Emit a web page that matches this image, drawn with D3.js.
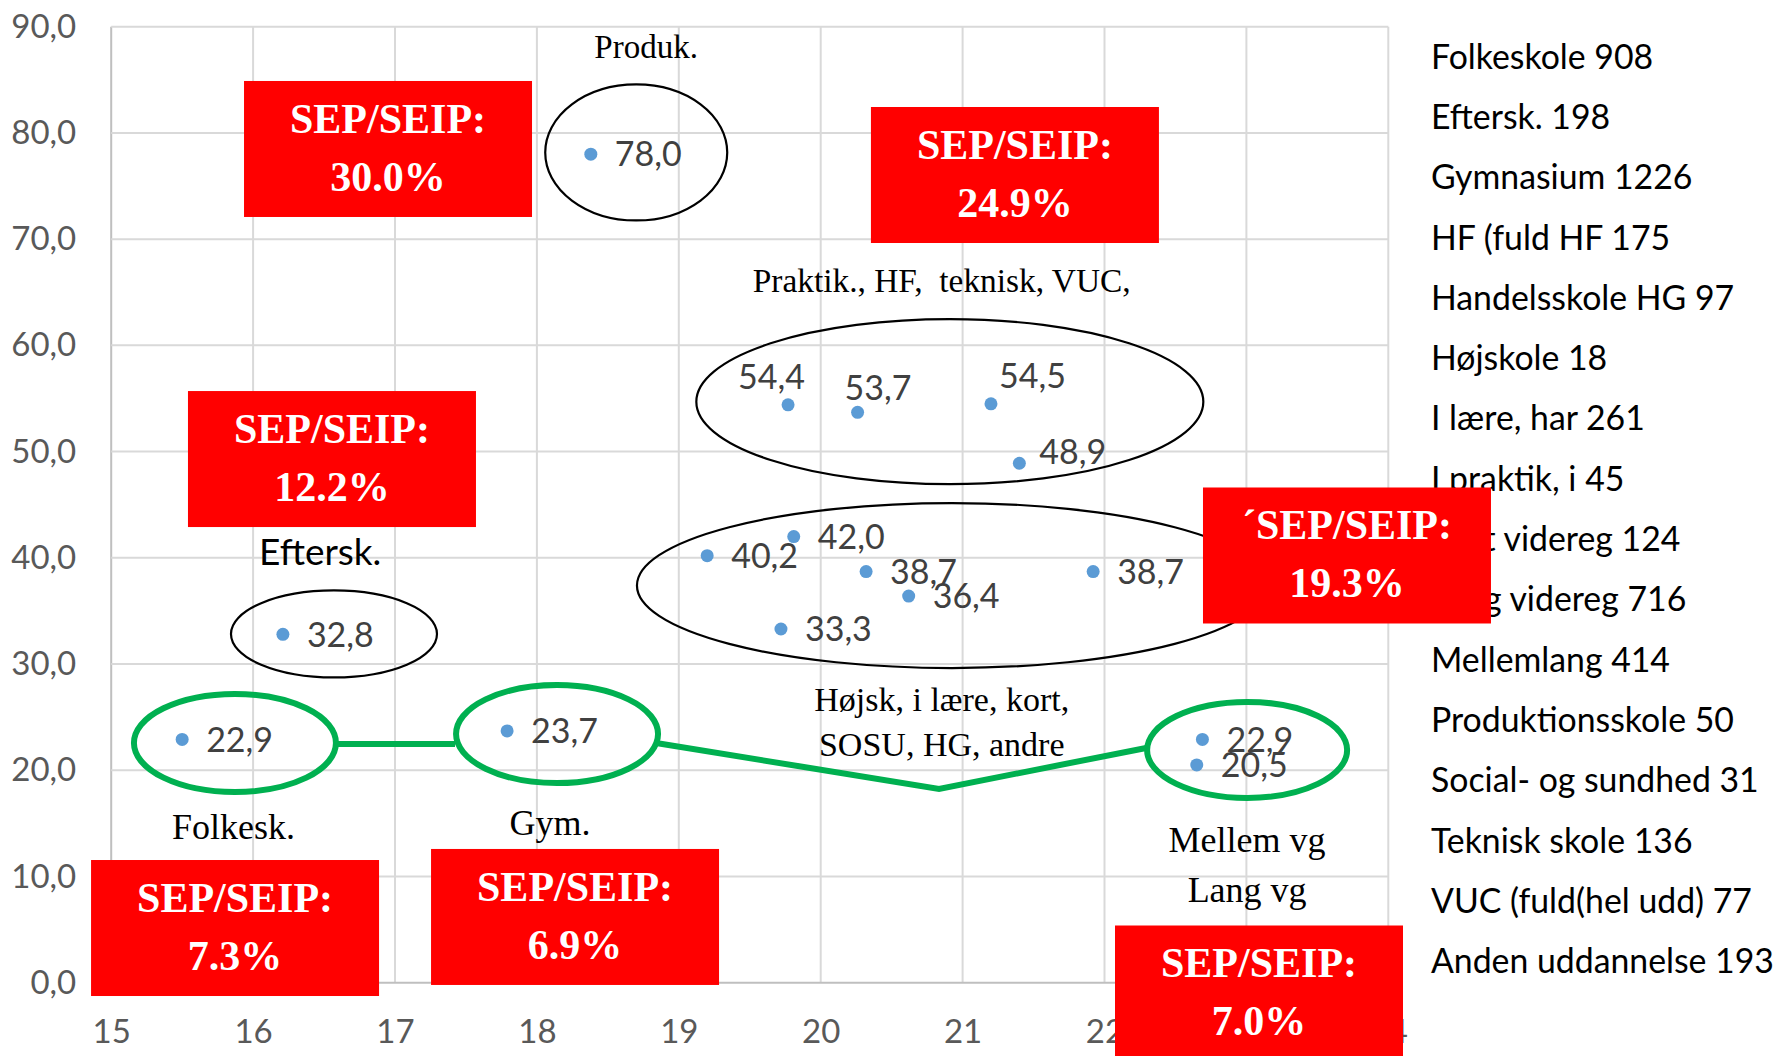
<!DOCTYPE html>
<html>
<head>
<meta charset="utf-8">
<script src="https://cdn.jsdelivr.net/npm/d3@7/dist/d3.min.js"></script>
<style>
  html, body { margin: 0; padding: 0; background: #ffffff; }
  svg { display: block; }
</style>
</head>
<body>
<svg id="chart" width="1783" height="1056"></svg>
<script>
// ---------------- DATA ----------------
const xValues = [15.50, 16.21, 17.79, 18.38, 19.20, 19.72, 19.77, 19.81, 20.26, 20.32, 20.62, 21.20, 21.40, 21.92, 22.65, 22.69];
const yValues = [22.9, 32.8, 23.7, 78.0, 40.2, 33.3, 54.4, 42.0, 53.7, 38.7, 36.4, 54.5, 48.9, 38.7, 20.5, 22.9];

const legendNames = ["Folkeskole", "Eftersk.", "Gymnasium", "HF (fuld HF", "Handelsskole HG", "Højskole",
  "I lære, har", "I praktik, i", "Kort videreg", "Lang videreg", "Mellemlang", "Produktionsskole",
  "Social- og sundhed", "Teknisk skole", "VUC (fuld(hel udd)", "Anden uddannelse"];
const legendCounts = [908, 198, 1226, 175, 97, 18, 261, 45, 124, 716, 414, 50, 31, 136, 77, 193];

const xTicks = [15, 16, 17, 18, 19, 20, 21, 22, 23, 24];
const yTicks = [0, 10, 20, 30, 40, 50, 60, 70, 80, 90];

const boxLine1 = ["SEP/SEIP:", "SEP/SEIP:", "SEP/SEIP:", "´SEP/SEIP:", "SEP/SEIP:", "SEP/SEIP:", "SEP/SEIP:"];
const boxLine2 = ["30.0%", "24.9%", "12.2%", "19.3%", "7.0%", "7.3%", "6.9%"];

const groupTexts = ["Produk.", "Praktik., HF,  teknisk, VUC,", "Eftersk.", "Folkesk.", "Gym.",
  "Højsk, i lære, kort,", "SOSU, HG, andre", "Mellem vg", "Lang vg"];

// ---------------- LAYOUT (annotation placement, data units) ----------------
const labelNudge = { 6: [-74, -28], 8: [-37, -25], 11: [-16, -28], 12: [-4, -12] };
const boxAnchors = [[15.936, 84.89], [20.354, 82.44], [15.541, 55.70], [22.694, 46.62], [22.074, 5.385], [14.858, 11.55], [17.254, 12.59]];
const textAnchors = [
  { x: 18.770, y: 87.05, size: 33, sans: false },
  { x: 20.853, y: 65.03, size: 33.4, sans: false },
  { x: 16.473, y: 39.32, size: 37, sans: true },
  { x: 15.862, y: 13.53, size: 36, sans: false },
  { x: 18.092, y: 13.90, size: 36, sans: false },
  { x: 20.853, y: 25.60, size: 34, sans: false },
  { x: 20.853, y: 21.35, size: 34, sans: false },
  { x: 23.005, y: 12.30, size: 36, sans: false },
  { x: 23.005, y: 7.60, size: 36, sans: false }
];
const blackEllipses = [
  { cx: 18.700, cy: 78.16, rx: 91, ry: 68 },
  { cx: 16.570, cy: 32.83, rx: 103, ry: 43.5 },
  { cx: 20.910, cy: 54.70, rx: 253.5, ry: 82.5 },
  { cx: 20.925, cy: 37.39, rx: 315, ry: 82.5 }
];
const greenEllipses = [
  { cx: 15.872, cy: 22.57, rx: 101, ry: 49 },
  { cx: 18.142, cy: 23.41, rx: 101, ry: 49 },
  { cx: 23.005, cy: 21.91, rx: 100, ry: 48 }
];
const greenLines = [
  [[16.584, 22.47], [17.423, 22.47]],
  [[18.840, 22.57], [20.834, 18.24], [22.293, 22.10]]
];

// ---------------- CHART ----------------
const svg = d3.select("#chart");
const plotLeft = 111.2, plotRight = 1388.3, plotTop = 26.7, plotBottom = 982.7;
const x = d3.scaleLinear().domain([15, 24]).range([plotLeft, plotRight]);
const y = d3.scaleLinear().domain([0, 90]).range([plotBottom, plotTop]);

const grid = svg.append("g");
grid.selectAll("line.v").data(xTicks).enter().append("line")
  .attr("x1", d => x(d)).attr("x2", d => x(d))
  .attr("y1", plotTop).attr("y2", plotBottom)
  .attr("stroke", d => d === 15 ? "#BFBFBF" : "#D9D9D9").attr("stroke-width", 2);
grid.selectAll("line.h").data(yTicks).enter().append("line")
  .attr("x1", plotLeft).attr("x2", plotRight)
  .attr("y1", d => y(d)).attr("y2", d => y(d))
  .attr("stroke", d => d === 0 ? "#BFBFBF" : "#D9D9D9").attr("stroke-width", 2);

const fmt = d => d3.format(".1f")(d).replace(".", ",");
const yAxis = svg.append("g").attr("transform", `translate(${plotLeft},0)`)
  .call(d3.axisLeft(y).tickValues(yTicks).tickSize(0).tickPadding(35).tickFormat(fmt));
const xAxis = svg.append("g").attr("transform", `translate(0,${plotBottom})`)
  .call(d3.axisBottom(x).tickValues(xTicks).tickSize(0).tickPadding(37).tickFormat(d3.format("d")));
[yAxis, xAxis].forEach(a => {
  a.select(".domain").remove();
  a.selectAll("text").attr("font-family", "Lato, 'Open Sans', sans-serif")
    .attr("font-size", 33).attr("fill", "#595959");
});

// ellipses
svg.append("g").selectAll("ellipse").data(blackEllipses).enter().append("ellipse")
  .attr("cx", d => x(d.cx)).attr("cy", d => y(d.cy)).attr("rx", d => d.rx).attr("ry", d => d.ry)
  .attr("fill", "none").attr("stroke", "#000").attr("stroke-width", 2.2);
svg.append("g").selectAll("ellipse").data(greenEllipses).enter().append("ellipse")
  .attr("cx", d => x(d.cx)).attr("cy", d => y(d.cy)).attr("rx", d => d.rx).attr("ry", d => d.ry)
  .attr("fill", "none").attr("stroke", "#00B050").attr("stroke-width", 6);
const lineGen = d3.line().x(d => x(d[0])).y(d => y(d[1]));
svg.append("g").selectAll("path").data(greenLines).enter().append("path")
  .attr("d", lineGen).attr("fill", "none").attr("stroke", "#00B050").attr("stroke-width", 6)
  .attr("stroke-linejoin", "miter");

// points
const pts = xValues.map((xv, i) => ({ x: xv, y: yValues[i], i }));
svg.append("g").selectAll("circle").data(pts).enter().append("circle")
  .attr("cx", d => x(d.x)).attr("cy", d => y(d.y)).attr("r", 6.5).attr("fill", "#5B9BD5");
svg.append("g").selectAll("text").data(pts).enter().append("text")
  .attr("x", d => x(d.x) + 24 + (labelNudge[d.i] ? labelNudge[d.i][0] : 0))
  .attr("y", d => y(d.y) + (labelNudge[d.i] ? labelNudge[d.i][1] : 0))
  .attr("dy", "0.36em")
  .attr("font-family", "Lato, 'Open Sans', sans-serif").attr("font-size", 34).attr("fill", "#404040")
  .text(d => fmt(d.y));

// group annotation texts
svg.append("g").selectAll("text").data(groupTexts).enter().append("text")
  .attr("x", (d, i) => x(textAnchors[i].x)).attr("y", (d, i) => y(textAnchors[i].y))
  .attr("text-anchor", "middle")
  .attr("font-family", (d, i) => textAnchors[i].sans ? "Lato, sans-serif" : "'Liberation Serif', 'DejaVu Serif', serif")
  .attr("font-size", (d, i) => textAnchors[i].size).attr("fill", "#000")
  .style("white-space", "pre")
  .text(d => d);

// legend-like list on the right
svg.append("g").selectAll("text").data(legendNames).enter().append("text")
  .attr("x", 1431).attr("y", (d, i) => 68.6 + i * 60.3)
  .attr("font-family", "Lato, 'Open Sans', sans-serif").attr("font-size", 33.8).attr("fill", "#000")
  .text((d, i) => d + " " + legendCounts[i]);

// red boxes
const boxW = 288, boxH = 136;
const boxes = svg.append("g").selectAll("g").data(boxLine1).enter().append("g")
  .attr("transform", (d, i) => `translate(${x(boxAnchors[i][0])},${y(boxAnchors[i][1])})`);
boxes.append("rect").attr("width", boxW).attr("height", boxH).attr("fill", "#FF0000");
boxes.append("text").attr("x", boxW / 2).attr("y", 52).attr("text-anchor", "middle")
  .attr("font-family", "'Liberation Serif', serif").attr("font-weight", "bold")
  .attr("font-size", 42).attr("fill", "#fff").text(d => d);
boxes.append("text").attr("x", boxW / 2).attr("y", 110).attr("text-anchor", "middle")
  .attr("font-family", "'Liberation Serif', serif").attr("font-weight", "bold")
  .attr("font-size", 42).attr("fill", "#fff").text((d, i) => boxLine2[i]);
</script>
</body>
</html>
